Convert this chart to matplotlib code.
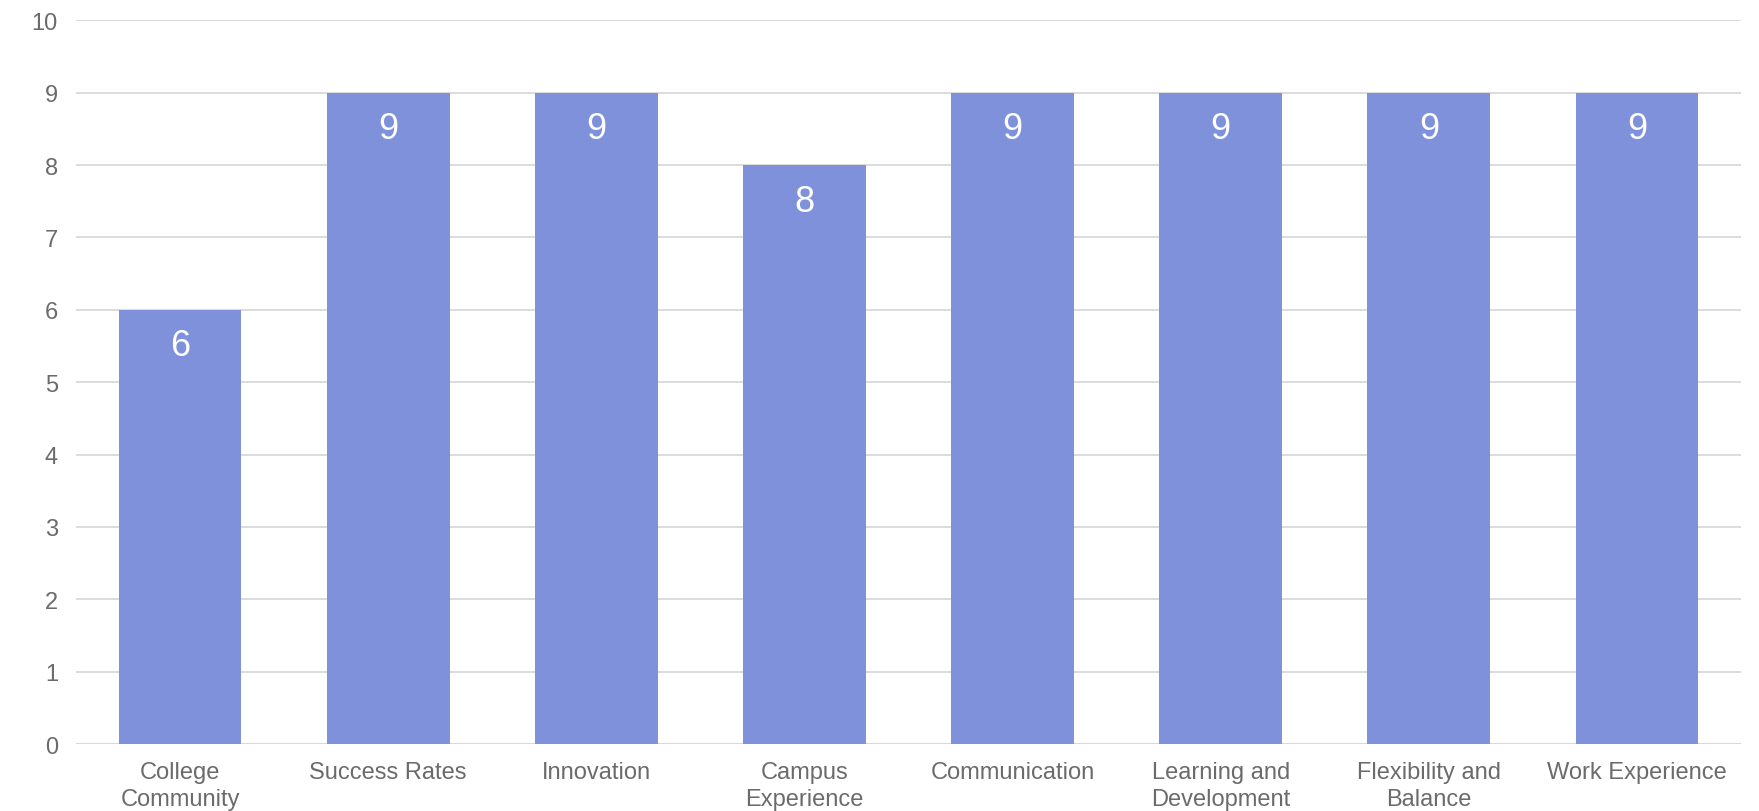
import matplotlib
matplotlib.use("Agg")
import matplotlib.pyplot as plt
import numpy as np

categories = ["College\nCommunity", "Success Rates", "Innovation", "Campus\nExperience",
              "Communication", "Learning and\nDevelopment", "Flexibility and\nBalance",
              "Work Experience"]
values = [6, 9, 9, 8, 9, 9, 9, 9]
y_ticks = [0, 1, 2, 3, 4, 5, 6, 7, 8, 9, 10]

plt.rcParams['font.family'] = ['Liberation Sans', 'DejaVu Sans']

fig = plt.figure(figsize=(17.59, 8.12), dpi=100)
ax = fig.add_axes([0.0432, 0.0825, 0.9466, 0.8913])

x = np.arange(len(categories))
bars = ax.bar(x, values, width=0.59, color='#7f91db', zorder=3)

for b, v in zip(bars, values):
    ax.text(b.get_x() + b.get_width() / 2, v - 0.5, str(v), ha='center', va='center',
            color='white', fontsize=26, zorder=4)

ax.set_xlim(-0.5, len(categories) - 0.5)
ax.set_ylim(0, 10)
ax.set_yticks(y_ticks)
ax.set_xticks(x)
ax.set_xticklabels(categories, linespacing=1.33)
ax.tick_params(axis='y', length=0, pad=13, labelsize=17, labelcolor='#6b6b6b')
ax.tick_params(axis='x', length=0, pad=12, labelsize=17, labelcolor='#6b6b6b')
ax.grid(axis='y', color='#d9d9d9', linewidth=1.3, zorder=0)
for s in ax.spines.values():
    s.set_visible(False)
ax.axhline(0, color='#d9d9d9', linewidth=1.5, zorder=2)

fig.savefig('out.png', dpi=100)
